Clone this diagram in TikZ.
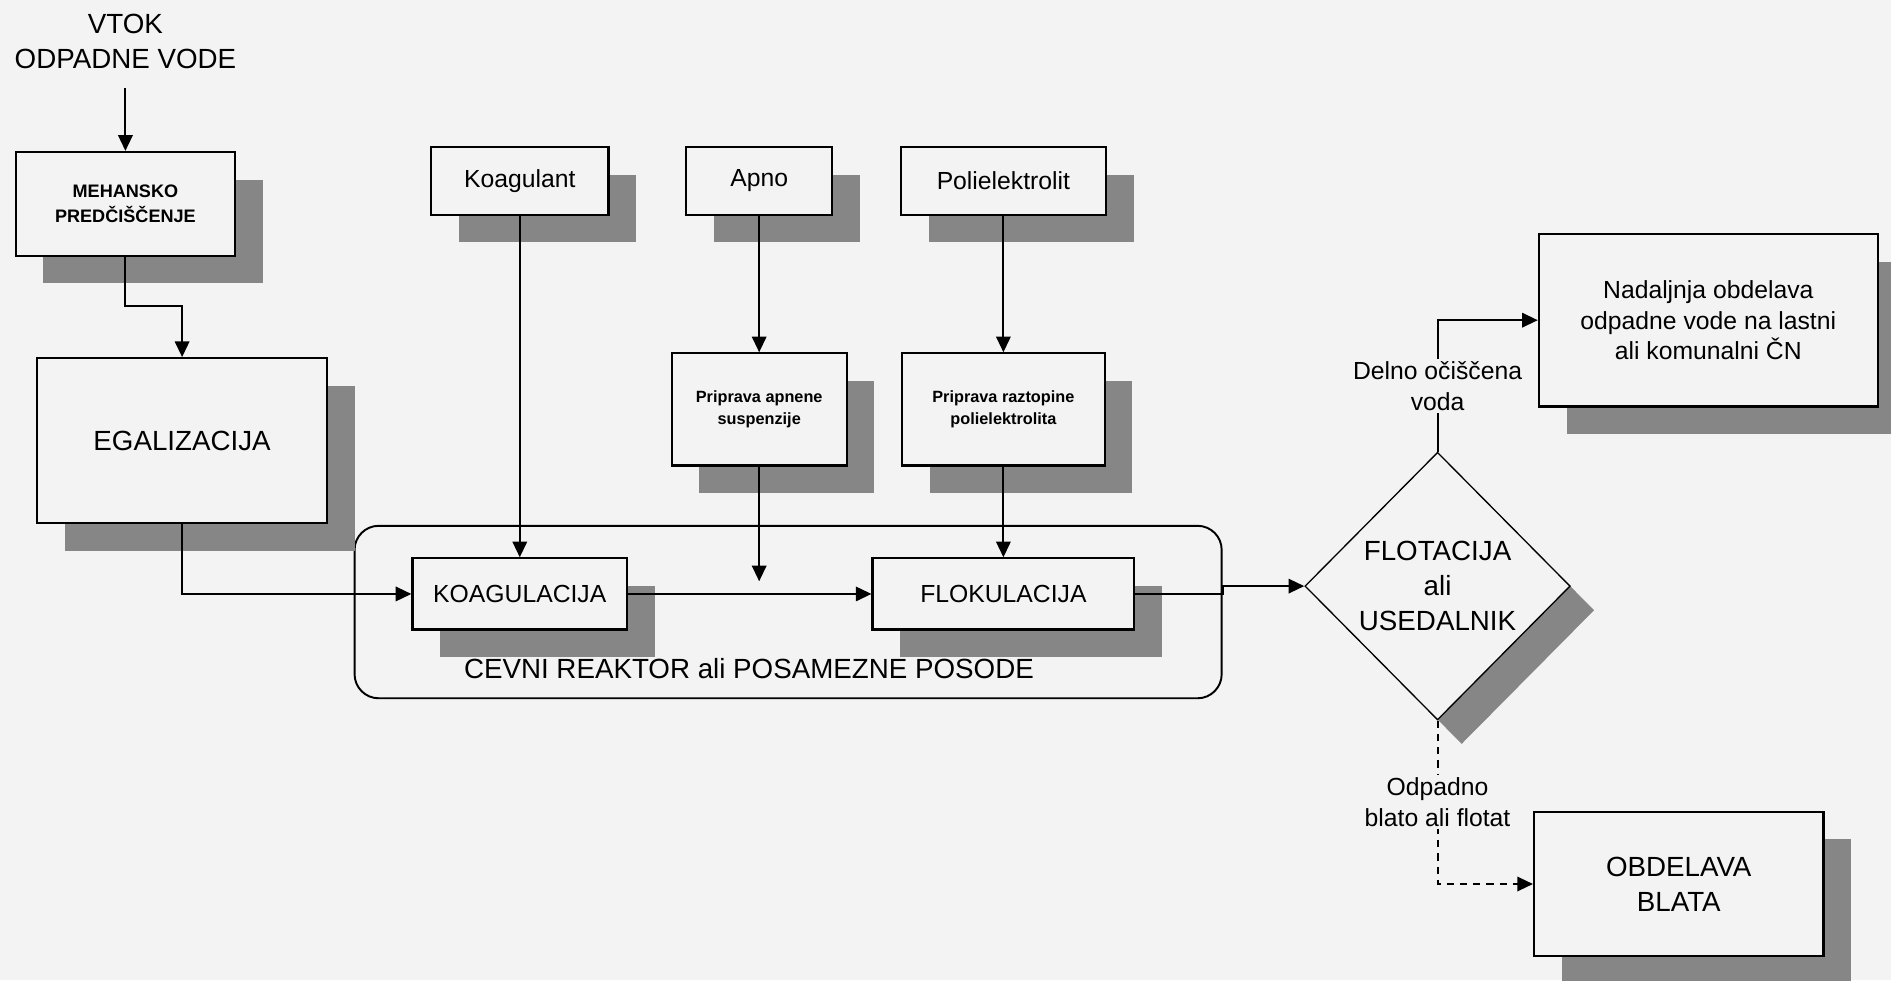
\documentclass[tikz,border=0pt]{standalone}
\usepackage{fontspec}
\setmainfont{Liberation Sans}
\usetikzlibrary{arrows.meta,shapes.geometric,shadows}
\definecolor{bgcol}{RGB}{243,243,243}
\definecolor{shadowgray}{RGB}{134,134,134}
\def\shadowsep{23pt}

\begin{document}
\begin{tikzpicture}[x=1pt,y=-1pt,line width=1.6pt,>={Triangle[length=13pt,width=12pt]}]
      \tikzstyle{box}=[draw, line width=1.8pt, fill=bgcol, align=center, inner sep=0pt,
          general shadow={fill=shadowgray, shadow xshift=\shadowsep, shadow yshift=-\shadowsep}]
      \tikzstyle{big}=[font=\fontsize{23}{29}\selectfont]
      \tikzstyle{normal}=[font=\fontsize{20.5}{25.5}\selectfont]
      \tikzstyle{tiny}=[font=\fontsize{15}{20}\selectfont\bfseries]
      \tikzstyle{prep}=[font=\fontsize{13.5}{18}\selectfont\bfseries]
      \tikzstyle{decision}=[diamond, draw, line width=1.1pt, fill=bgcol, align=center, inner sep=0pt,
          general shadow={fill=shadowgray, shadow xshift=20pt, shadow yshift=-20pt}]
      \tikzstyle{flowlabel}=[normal, fill=bgcol, align=center, inner sep=2pt]

      % Background and page size
      \fill[bgcol] (0,0) rectangle (1568,813);
      \useasboundingbox (0,0) rectangle (1568,813);

      % Draw the reactor frame
      \node[draw, rounded corners=20pt, minimum width=719pt, minimum height=143pt] (reactor) at (653.5,507.5) {};

      % Draw the inflow and pretreatment
      \node[big, align=center] (inflow) at (104,34) {VTOK\\ODPADNE VODE};
      \node[box, tiny, minimum width=182pt, minimum height=86pt] (mehansko) at (104,169) {MEHANSKO\\PREDČIŠČENJE};
      \node[box, big, minimum width=240pt, minimum height=137pt] (egal) at (151,365.5) {EGALIZACIJA};

      % Draw the chemicals
      \node[box, normal, minimum width=147pt, minimum height=56pt] (koagulant) at (431,150) {Koagulant};
      \node[box, normal, minimum width=121pt, minimum height=56pt] (apno) at (629.5,150) {Apno};
      \node[box, normal, minimum width=170pt, minimum height=56pt] (poli) at (832,150) {Polielektrolit};
      \node[box, prep, minimum width=145pt, minimum height=93pt] (apnenica) at (629.5,339.5) {Priprava apnene\\suspenzije};
      \node[box, prep, minimum width=168pt, minimum height=93pt] (raztopina) at (832,339.5) {Priprava raztopine\\polielektrolita};
      \coordinate (limeend) at (629.5,482);

      % Draw the reactor stages
      \node[box, normal, minimum width=178pt, minimum height=59pt] (koag) at (431,492.5) {KOAGULACIJA};
      \node[box, normal, minimum width=217pt, minimum height=59pt] (flok) at (832,492.5) {FLOKULACIJA};
      \node[big] (reactortext) at (621,554) {CEVNI REAKTOR ali POSAMEZNE POSODE};

      % Draw the separation and the outputs
      \node[decision, big, minimum width=220pt, minimum height=222pt] (flot) at (1192,486) {FLOTACIJA\\ali\\USEDALNIK};
      \node[box, normal, minimum width=281pt, minimum height=143pt] (nadalj) at (1416.5,265.5) {Nadaljnja obdelava\\odpadne vode na lastni\\ali komunalni ČN};
      \node[box, big, minimum width=240pt, minimum height=120pt] (blato) at (1392,733) {OBDELAVA\\BLATA};

      % Connect the main flow
      \draw[->, shorten <=12pt] (inflow) -- (mehansko);
      \draw[->] (mehansko.south) -- ++(0,41) -| (egal.north);
      \draw[->] (egal.south) |- (koag.west);
      \draw[->] (koag) -- (flok);
      \draw[->] (flok.east) -- (flok.east -| reactor.east) |- (flot.west);

      % Connect the chemical dosing
      \draw[->] (koagulant) -- (koag);
      \draw[->] (apno) -- (apnenica);
      \draw[->] (apnenica) -- (limeend);
      \draw[->] (poli) -- (raztopina);
      \draw[->] (raztopina) -- (flok);

      % Connect the outputs
      \draw[->] (flot.north) |- (nadalj.west) node[flowlabel, pos=0.25] {Delno očiščena\\voda};
      \draw[->, dash pattern=on 6pt off 5pt] (flot.south) |- (blato.west) node[flowlabel, pos=0.25] {Odpadno\\blato ali flotat};
\end{tikzpicture}
\end{document}
